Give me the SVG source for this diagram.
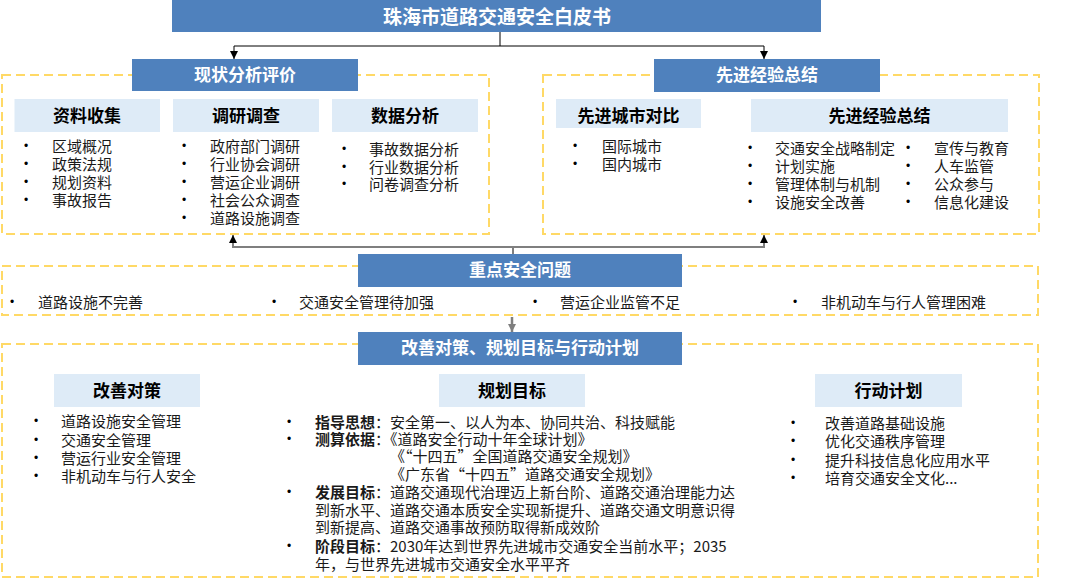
<svg xmlns="http://www.w3.org/2000/svg" width="1080" height="579" viewBox="0 0 1080 579">
<defs>
<style>
.hdr{fill:#4F81BD}
.hdt{font-family:"Noto Sans CJK SC","Liberation Sans",sans-serif;font-weight:bold;font-size:17px;fill:#FFFFFF;text-anchor:middle}
.ttl{font-size:19px}
.sub{fill:#DEEBF7}
.sbt{font-family:"Noto Sans CJK SC","Liberation Sans",sans-serif;font-weight:bold;font-size:17px;fill:#000000;text-anchor:middle}
.dash{fill:none;stroke:#FFD966;stroke-width:2;stroke-dasharray:9 5}
.li{font-family:"Noto Sans CJK SC","Liberation Sans",sans-serif;font-size:15px;fill:#1A1A1A}
.b{font-weight:bold}
.dot{font-family:"Liberation Sans",Arial,sans-serif;font-size:12px;fill:#000000;text-anchor:middle}
.cb{fill:none;stroke:#000000;stroke-width:1}
.cg{fill:none;stroke:#7F7F7F;stroke-width:2}
.cg3{fill:none;stroke:#7F7F7F;stroke-width:2.5}
</style>
<marker id="ab" viewBox="0 0 8 8" refX="8" refY="4" markerWidth="8" markerHeight="8" markerUnits="userSpaceOnUse" orient="auto"><path d="M0,0 L8,4 L0,8 z" fill="#000000"/></marker>
<marker id="ag" viewBox="0 0 8 8" refX="8" refY="4" markerWidth="8" markerHeight="8" markerUnits="userSpaceOnUse" orient="auto"><path d="M0,0 L8,4 L0,8 z" fill="#7F7F7F"/></marker>
</defs>
<rect width="1080" height="579" fill="#FFFFFF"/>

<g id="connectors">
<path class="cb" d="M500,32 V46 H234 V59" marker-end="url(#ab)"/>
<path class="cb" d="M500,46 H764 V59" marker-end="url(#ab)"/>
<path class="cg" d="M513,254 V247 H233 V235" marker-end="url(#ab)"/>
<path class="cg" d="M513,247 H764 V235" marker-end="url(#ab)"/>
<path class="cg3" d="M512,317 V332" marker-end="url(#ag)"/>
</g>

<g id="title">
<rect class="hdr" x="172" y="0" width="649" height="32"/>
<text class="hdt ttl" x="497" y="23.5">珠海市道路交通安全白皮书</text>
</g>

<g id="status">
<rect class="dash" x="2" y="75" width="487" height="159"/>
<rect class="hdr" x="132" y="59" width="226" height="32"/>
<text class="hdt" x="245" y="80.5">现状分析评价</text>
</g>
<g id="collect">
<rect class="sub" x="14.5" y="99" width="145.5" height="33"/>
<text class="sbt" x="87" y="121.5">资料收集</text>
<text class="dot"><tspan x="26" y="150">•</tspan><tspan x="26" y="168">•</tspan><tspan x="26" y="186">•</tspan><tspan x="26" y="204">•</tspan></text>
<text class="li"><tspan x="52" y="152">区域概况</tspan><tspan x="52" y="170">政策法规</tspan><tspan x="52" y="188">规划资料</tspan><tspan x="52" y="206">事故报告</tspan></text>
</g>
<g id="survey">
<rect class="sub" x="173" y="99" width="146" height="33"/>
<text class="sbt" x="246" y="121.5">调研调查</text>
<text class="dot"><tspan x="184" y="150">•</tspan><tspan x="184" y="168">•</tspan><tspan x="184" y="186">•</tspan><tspan x="184" y="204">•</tspan><tspan x="184" y="222">•</tspan></text>
<text class="li"><tspan x="210" y="152">政府部门调研</tspan><tspan x="210" y="170">行业协会调研</tspan><tspan x="210" y="188">营运企业调研</tspan><tspan x="210" y="206">社会公众调查</tspan><tspan x="210" y="224">道路设施调查</tspan></text>
</g>
<g id="data">
<rect class="sub" x="332" y="99" width="146" height="33"/>
<text class="sbt" x="405" y="121.5">数据分析</text>
<text class="dot"><tspan x="344" y="153">•</tspan><tspan x="344" y="170.5">•</tspan><tspan x="344" y="188">•</tspan></text>
<text class="li"><tspan x="369" y="155">事故数据分析</tspan><tspan x="369" y="172.5">行业数据分析</tspan><tspan x="369" y="190">问卷调查分析</tspan></text>
</g>

<g id="experience">
<rect class="dash" x="543" y="75" width="496" height="159"/>
<rect class="hdr" x="654" y="59" width="226" height="33"/>
<text class="hdt" x="767" y="80.5">先进经验总结</text>
</g>
<g id="compare">
<rect class="sub" x="556" y="99" width="145" height="29"/>
<text class="sbt" x="628.5" y="121.5">先进城市对比</text>
<text class="dot"><tspan x="575" y="150">•</tspan><tspan x="575" y="168">•</tspan></text>
<text class="li"><tspan x="602" y="152">国际城市</tspan><tspan x="602" y="170">国内城市</tspan></text>
</g>
<g id="summary">
<rect class="sub" x="751" y="99" width="257" height="33"/>
<text class="sbt" x="879.5" y="121.5">先进经验总结</text>
<text class="dot"><tspan x="750" y="151.7">•</tspan><tspan x="750" y="169.7">•</tspan><tspan x="750" y="187.7">•</tspan><tspan x="750" y="205.7">•</tspan></text>
<text class="li"><tspan x="775" y="153.7">交通安全战略制定</tspan><tspan x="775" y="171.7">计划实施</tspan><tspan x="775" y="189.7">管理体制与机制</tspan><tspan x="775" y="207.7">设施安全改善</tspan></text>
<text class="dot"><tspan x="908" y="151.7">•</tspan><tspan x="908" y="169.7">•</tspan><tspan x="908" y="187.7">•</tspan><tspan x="908" y="205.7">•</tspan></text>
<text class="li"><tspan x="934" y="153.7">宣传与教育</tspan><tspan x="934" y="171.7">人车监管</tspan><tspan x="934" y="189.7">公众参与</tspan><tspan x="934" y="207.7">信息化建设</tspan></text>
</g>

<g id="issues">
<rect class="dash" x="2" y="266" width="1036" height="49"/>
<rect class="hdr" x="358" y="254" width="324" height="33"/>
<text class="hdt" x="520" y="276">重点安全问题</text>
<text class="dot" x="12" y="305.7">•</text><text class="li" x="38" y="307.7">道路设施不完善</text>
<text class="dot" x="274" y="305.7">•</text><text class="li" x="299" y="307.7">交通安全管理待加强</text>
<text class="dot" x="535" y="305.7">•</text><text class="li" x="560" y="307.7">营运企业监管不足</text>
<text class="dot" x="795" y="305.7">•</text><text class="li" x="821" y="307.7">非机动车与行人管理困难</text>
</g>

<g id="plan">
<rect class="dash" x="2" y="344" width="1036" height="233"/>
<rect class="hdr" x="358" y="332" width="324" height="33"/>
<text class="hdt" x="520" y="354">改善对策、规划目标与行动计划</text>
</g>
<g id="measures">
<rect class="sub" x="54" y="374" width="146" height="33"/>
<text class="sbt" x="127" y="396.5">改善对策</text>
<text class="dot"><tspan x="36" y="425.4">•</tspan><tspan x="36" y="443.7">•</tspan><tspan x="36" y="462">•</tspan><tspan x="36" y="480.4">•</tspan></text>
<text class="li"><tspan x="61" y="427.4">道路设施安全管理</tspan><tspan x="61" y="445.7">交通安全管理</tspan><tspan x="61" y="464">营运行业安全管理</tspan><tspan x="61" y="482.4">非机动车与行人安全</tspan></text>
</g>
<g id="goals">
<rect class="sub" x="439" y="374" width="146" height="33"/>
<text class="sbt" x="512" y="396.5">规划目标</text>
<text class="dot"><tspan x="289" y="425.7">•</tspan><tspan x="289" y="443">•</tspan><tspan x="289" y="496.4">•</tspan><tspan x="289" y="549.7">•</tspan></text>
<text class="li"><tspan x="315" y="427.7" class="b">指导思想</tspan><tspan>：安全第一、以人为本、协同共治、科技赋能</tspan><tspan x="315" y="445" class="b">测算依据</tspan><tspan>：《道路安全行动十年全球计划》</tspan><tspan x="390" y="462.4">《“十四五”全国道路交通安全规划》</tspan><tspan x="390" y="479.7">《广东省“十四五”道路交通安全规划》</tspan><tspan x="315" y="498.4" class="b">发展目标</tspan><tspan>：道路交通现代治理迈上新台阶、道路交通治理能力达</tspan><tspan x="315" y="515.7">到新水平、道路交通本质安全实现新提升、道路交通文明意识得</tspan><tspan x="315" y="533.4">到新提高、道路交通事故预防取得新成效阶</tspan><tspan x="315" y="551.7" class="b">阶段目标</tspan><tspan>：2030年达到世界先进城市交通安全当前水平；2035</tspan><tspan x="315" y="569.7">年，与世界先进城市交通安全水平平齐</tspan></text>
</g>
<g id="actions">
<rect class="sub" x="815" y="374" width="147" height="33"/>
<text class="sbt" x="888.5" y="396.5">行动计划</text>
<text class="dot"><tspan x="793" y="427">•</tspan><tspan x="793" y="445.4">•</tspan><tspan x="793" y="463.7">•</tspan><tspan x="793" y="482">•</tspan></text>
<text class="li"><tspan x="825" y="429">改善道路基础设施</tspan><tspan x="825" y="447.4">优化交通秩序管理</tspan><tspan x="825" y="465.7">提升科技信息化应用水平</tspan><tspan x="825" y="484">培育交通安全文化...</tspan></text>
</g>
</svg>
